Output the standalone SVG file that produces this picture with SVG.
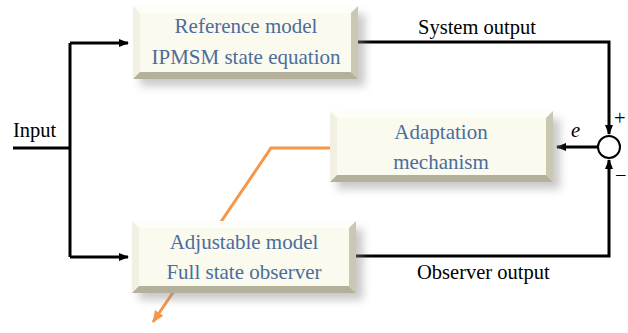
<svg xmlns="http://www.w3.org/2000/svg" width="628" height="333" viewBox="0 0 628 333">
<defs>
<style>
.ln{fill:none;stroke:#000;stroke-width:3}
.or{fill:none;stroke:#f79646;stroke-width:3}
.bt{font-family:"Liberation Serif",serif;font-size:21px;fill:#4a6d9c;text-anchor:middle}
.lb{font-family:"Liberation Serif",serif;font-size:20.5px;fill:#000}
.face{fill:#fbfaef}
.bt1{fill:#fefef8}
.bl1{fill:#f1f0e2}
.br1{fill:#cac8b2}
.bb1{fill:#b3b19b}
</style>
<marker id="ah" markerWidth="10" markerHeight="8" refX="9" refY="4" orient="auto" markerUnits="userSpaceOnUse">
<path d="M0,0 L10,4 L0,8 Z" fill="#000"/>
</marker>
<marker id="ao" markerWidth="12" markerHeight="10" refX="11" refY="5" orient="auto" markerUnits="userSpaceOnUse">
<path d="M0,0 L12,5 L0,10 Z" fill="#f79646"/>
</marker>
<filter id="sh" x="-10%" y="-20%" width="130%" height="160%">
<feGaussianBlur stdDeviation="4"/>
</filter>
</defs>
<rect width="628" height="333" fill="#fff"/>
<g id="connectors">
<path class="or" d="M330,148 H271 L153,322" marker-end="url(#ao)"/>
<path class="ln" d="M13,148 H70"/>
<path class="ln" d="M70,43 V257"/>
<path class="ln" d="M70,43 H128" marker-end="url(#ah)"/>
<path class="ln" d="M70,257 H128" marker-end="url(#ah)"/>
<path class="ln" d="M358,42 H609 V134" marker-end="url(#ah)"/>
<path class="ln" d="M356,256 H609 V160" marker-end="url(#ah)"/>
<path class="ln" d="M598,147 H557" marker-end="url(#ah)"/>
</g>
<g id="labels">
<text class="lb" x="13" y="137">Input</text>
<text class="lb" x="418" y="34">System output</text>
<text class="lb" x="417" y="279">Observer output</text>
<text class="lb" x="571" y="137" font-style="italic" font-size="22">e</text>
<text class="lb" x="614" y="125" font-size="22">+</text>
<text class="lb" x="615" y="182" font-size="22">−</text>
</g>
<g id="sum">
<circle cx="609" cy="147" r="11" fill="#fff" stroke="#000" stroke-width="2"/>
</g>
<g id="reference-model">
<rect x="140" y="14" width="225" height="72" fill="#888" opacity="0.45" filter="url(#sh)"/>
<rect class="face" x="133" y="6" width="225" height="73"/>
<polygon class="bt1" points="133,6 358,6 351,13 140,13"/>
<polygon class="bl1" points="133,6 140,13 140,72 133,79"/>
<polygon class="br1" points="358,6 358,79 351,72 351,13"/>
<polygon class="bb1" points="133,79 358,79 351,72 140,72"/>
<text class="bt" x="246" y="33">Reference model</text>
<text class="bt" x="246" y="64">IPMSM state equation</text>
</g>
<g id="adaptation-mechanism">
<rect x="337" y="119" width="223" height="70" fill="#888" opacity="0.45" filter="url(#sh)"/>
<rect class="face" x="330" y="111" width="223" height="71"/>
<polygon class="bt1" points="330,111 553,111 546,118 337,118"/>
<polygon class="bl1" points="330,111 337,118 337,175 330,182"/>
<polygon class="br1" points="553,111 553,182 546,175 546,118"/>
<polygon class="bb1" points="330,182 553,182 546,175 337,175"/>
<text class="bt" x="441" y="139">Adaptation</text>
<text class="bt" x="441" y="169">mechanism</text>
</g>
<g id="adjustable-model">
<rect x="139" y="229" width="224" height="71" fill="#888" opacity="0.45" filter="url(#sh)"/>
<rect class="face" x="132" y="221" width="224" height="72"/>
<polygon class="bt1" points="132,221 356,221 349,228 139,228"/>
<polygon class="bl1" points="132,221 139,228 139,286 132,293"/>
<polygon class="br1" points="356,221 356,293 349,286 349,228"/>
<polygon class="bb1" points="132,293 356,293 349,286 139,286"/>
<text class="bt" x="244" y="249">Adjustable model</text>
<text class="bt" x="244" y="279">Full state observer</text>
</g>
</svg>
